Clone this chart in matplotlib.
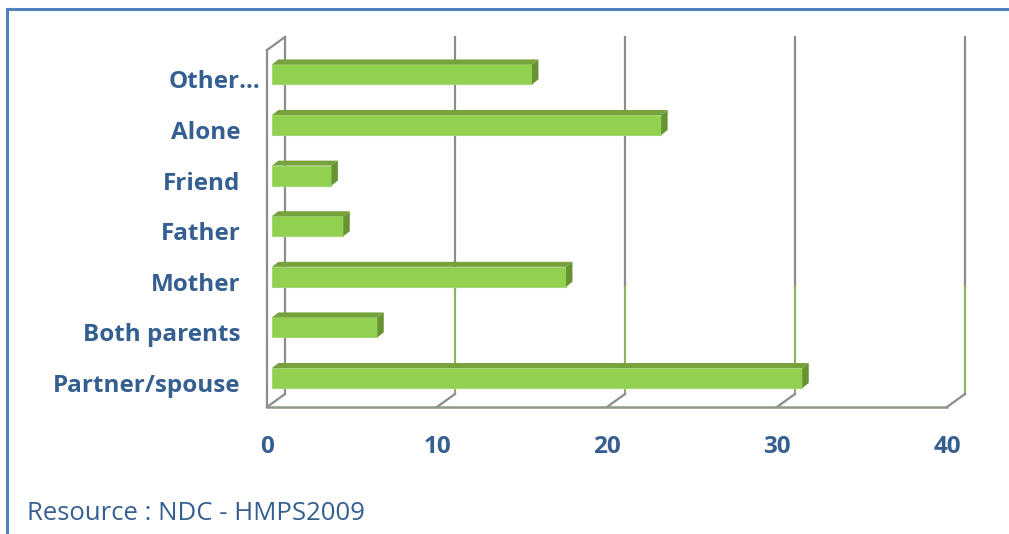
import matplotlib
matplotlib.use('Agg')
import matplotlib.pyplot as plt
from matplotlib.patches import Polygon
from matplotlib.lines import Line2D
from matplotlib.transforms import ScaledTranslation

categories = ['Partner/spouse', 'Both parents', 'Mother', 'Father', 'Friend', 'Alone', 'Other…']
values = [31.2, 6.2, 17.3, 4.2, 3.5, 22.9, 15.3]
x_ticks = [0, 10, 20, 30, 40]
source_note = 'Resource : NDC - HMPS2009'

text_blue = '#365F91'
grid_gray = '#8C8C8C'
grid_green = '#8DB364'
bar_front = '#92D050'
bar_top = '#76A23C'
bar_side = '#679332'

plt.rcParams['font.family'] = ['Open Sans', 'DejaVu Sans']

fig = plt.figure(figsize=(10.09, 5.34), dpi=100)
ax = fig.add_axes([0.2646, 0.2378, 0.6739, 0.6685])
ax.set_xlim(0, 40)
y0, y1 = -0.474, 6.581
ax.set_ylim(y0, y1)
for s in ax.spines.values():
    s.set_visible(False)

# 3d wall depth in data units
wdx, wdy = 1.06, 0.257
y_back_top = 6.838
split = 1.9

# back wall gridlines
for k in x_ticks:
    bx = k + wdx
    ax.plot([bx, bx], [split, y_back_top], color=grid_gray, lw=1.6, clip_on=False, zorder=1)
    ax.plot([bx, bx], [y0 + wdy, split], color=grid_green if k else grid_gray, lw=1.6,
            clip_on=False, zorder=1)
    ax.plot([k, bx], [y0, y0 + wdy], color=grid_gray, lw=1.6, clip_on=False, zorder=1)

# left wall and floor
ax.plot([0, 0], [y0, y1], color=grid_gray, lw=1.6, clip_on=False, zorder=1)
ax.plot([0, wdx], [y1, y_back_top], color=grid_gray, lw=1.6, clip_on=False, zorder=1)
ax.plot([0, 40], [y0, y0], color='#8E9A84', lw=1.8, clip_on=False, zorder=1)

# bars
bdx, bdy = 0.29, 0.099
bh = 0.395
ddx, ddy = 0.38, 0.099
pos = list(range(len(categories)))
ax.barh([p + bdy for p in pos], values, left=bdx, height=bh, color=bar_front,
        edgecolor='#A4D873', lw=0.8, zorder=3)
for p, v in zip(pos, values):
    yb = p + bdy - bh / 2
    yt = p + bdy + bh / 2
    xr = bdx + v
    ax.add_patch(Polygon([(bdx, yt), (xr, yt), (xr + ddx, yt + ddy), (bdx + ddx, yt + ddy)],
                         closed=True, color=bar_top, lw=0, zorder=3))
    ax.add_patch(Polygon([(xr, yb), (xr, yt), (xr + ddx, yt + ddy), (xr + ddx, yb + ddy)],
                         closed=True, color=bar_side, lw=0, zorder=3))

ax.set_xticks(x_ticks)
ax.set_xticklabels([str(t) for t in x_ticks], fontsize=17.5, fontweight='bold', color=text_blue)
ax.set_yticks(pos)
ax.set_yticklabels(categories, fontsize=17.5, fontweight='bold', color=text_blue)
ax.tick_params(axis='x', length=0, pad=20)
ax.tick_params(axis='y', length=0, pad=19)
other = ax.get_yticklabels()[-1]
other.set_transform(other.get_transform() + ScaledTranslation(0.20, 0, fig.dpi_scale_trans))

# outer frame
fig.add_artist(Line2D([7 / 1009, 1], [1 - 9 / 534, 1 - 9 / 534], color='#4F81BD', lw=2.2,
                      transform=fig.transFigure))
fig.add_artist(Line2D([7 / 1009, 7 / 1009], [0, 1 - 9 / 534], color='#4F81BD', lw=2.2,
                      transform=fig.transFigure))

fig.text(27 / 1009, 1 - 513 / 534, source_note, fontsize=18.5, color=text_blue, va='center')

fig.savefig('out.png', dpi=100)
